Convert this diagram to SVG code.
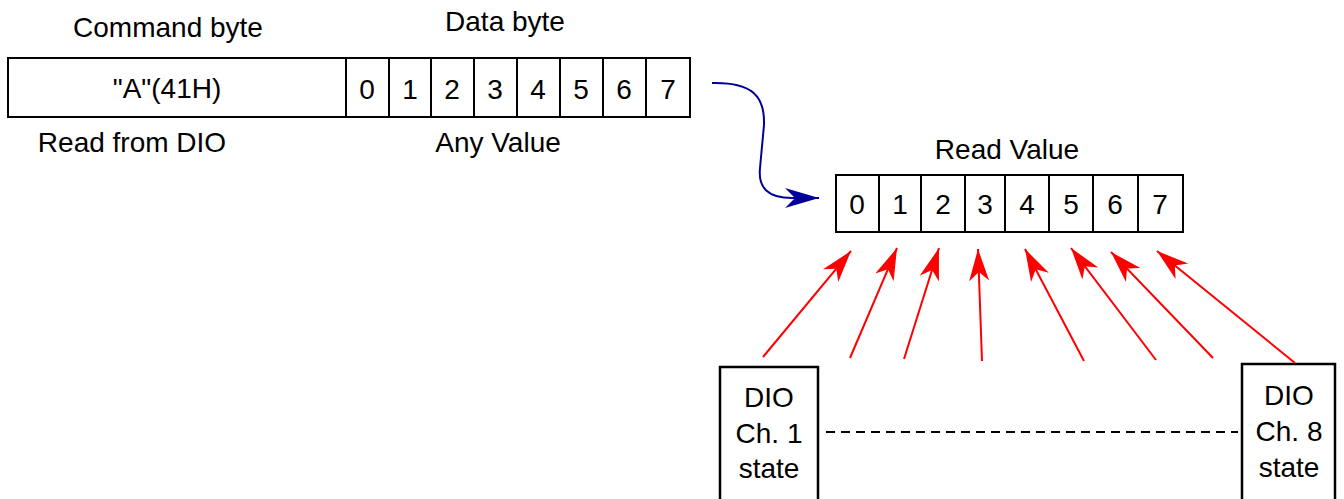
<svg xmlns="http://www.w3.org/2000/svg" width="1344" height="499" viewBox="0 0 1344 499">
<style>
text{font-family:"Liberation Sans",Arial,sans-serif;font-size:28px;fill:#000;text-anchor:middle}
.box{fill:#fff;stroke:#000;stroke-width:2}
.dio{fill:#fff;stroke:#000;stroke-width:2.5}
.red{fill:none;stroke:#f00;stroke-width:2}
</style>
<defs>
<marker id="ar" markerWidth="34" markerHeight="22" refX="32" refY="10" orient="auto" markerUnits="userSpaceOnUse" viewBox="0 0 34 22">
<path d="M32,10 L0,0 L9,10 L0,20 Z" fill="#f00"/>
</marker>
<marker id="ab" markerWidth="36" markerHeight="22" refX="34" refY="10" orient="auto" markerUnits="userSpaceOnUse" viewBox="0 0 36 22">
<path d="M34,10 L0,0 L10,10 L0,20 Z" fill="#000099"/>
</marker>
</defs>
<g id="labels">
<text x="168" y="37">Command byte</text>
<text x="505" y="31">Data byte</text>
<text x="132" y="152">Read from DIO</text>
<text x="498" y="152">Any Value</text>
<text x="1007" y="159">Read Value</text>
</g>
<g id="command-frame">
<rect class="box" x="8" y="58" width="682" height="59"/>
<line class="box" x1="346" y1="58" x2="346" y2="117"/>
<line class="box" x1="389" y1="58" x2="389" y2="117"/>
<line class="box" x1="431" y1="58" x2="431" y2="117"/>
<line class="box" x1="474" y1="58" x2="474" y2="117"/>
<line class="box" x1="517" y1="58" x2="517" y2="117"/>
<line class="box" x1="560" y1="58" x2="560" y2="117"/>
<line class="box" x1="603" y1="58" x2="603" y2="117"/>
<line class="box" x1="646" y1="58" x2="646" y2="117"/>
<text x="167" y="98">"A"(41H)</text>
<text x="367" y="99">0</text>
<text x="410" y="99">1</text>
<text x="452" y="99">2</text>
<text x="495" y="99">3</text>
<text x="538" y="99">4</text>
<text x="581" y="99">5</text>
<text x="624" y="99">6</text>
<text x="668" y="99">7</text>
</g>
<g id="read-value">
<rect class="box" x="836" y="175" width="347" height="57"/>
<line class="box" x1="879" y1="175" x2="879" y2="232"/>
<line class="box" x1="921" y1="175" x2="921" y2="232"/>
<line class="box" x1="965" y1="175" x2="965" y2="232"/>
<line class="box" x1="1005" y1="175" x2="1005" y2="232"/>
<line class="box" x1="1049" y1="175" x2="1049" y2="232"/>
<line class="box" x1="1093" y1="175" x2="1093" y2="232"/>
<line class="box" x1="1138" y1="175" x2="1138" y2="232"/>
<text x="857" y="214">0</text>
<text x="900" y="214">1</text>
<text x="943" y="214">2</text>
<text x="985" y="214">3</text>
<text x="1027" y="214">4</text>
<text x="1071" y="214">5</text>
<text x="1115" y="214">6</text>
<text x="1160" y="214">7</text>
</g>
<g id="dio-ch1">
<rect class="dio" x="720" y="367" width="98" height="140"/>
<text x="769" y="407">DIO</text>
<text x="769" y="443">Ch. 1</text>
<text x="769" y="478">state</text>
</g>
<g id="dio-ch8">
<rect class="dio" x="1242" y="364" width="93" height="143"/>
<text x="1289" y="405">DIO</text>
<text x="1289" y="441">Ch. 8</text>
<text x="1289" y="477">state</text>
</g>
<g id="connectors">
<path d="M712,83 C752,82 765,96 764,125 L760,168 C758,188 768,198 792,198 L819,198" fill="none" stroke="#000099" stroke-width="2" marker-end="url(#ab)"/>
<line class="red" x1="763" y1="357" x2="851" y2="251" marker-end="url(#ar)"/>
<line class="red" x1="850" y1="358" x2="897" y2="248" marker-end="url(#ar)"/>
<line class="red" x1="904" y1="359" x2="939" y2="248" marker-end="url(#ar)"/>
<line class="red" x1="982" y1="361" x2="978" y2="249" marker-end="url(#ar)"/>
<line class="red" x1="1084" y1="361" x2="1025" y2="249" marker-end="url(#ar)"/>
<line class="red" x1="1156" y1="360" x2="1071" y2="248" marker-end="url(#ar)"/>
<line class="red" x1="1213" y1="358" x2="1111" y2="252" marker-end="url(#ar)"/>
<line class="red" x1="1295" y1="363" x2="1157" y2="251" marker-end="url(#ar)"/>
<line x1="826" y1="432" x2="1238" y2="432" stroke="#000" stroke-width="2" stroke-dasharray="9,6"/>
</g>
</svg>
